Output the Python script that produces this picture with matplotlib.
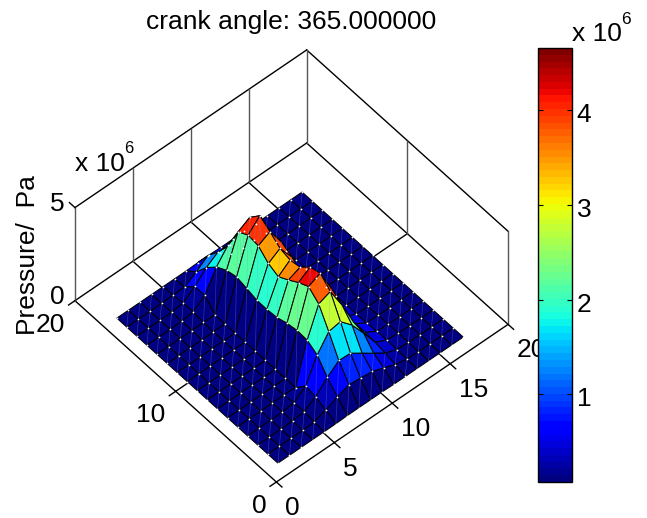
import numpy as np
import matplotlib
matplotlib.use("Agg")
import matplotlib.pyplot as plt
from matplotlib.cm import ScalarMappable
from matplotlib.colors import Normalize
from matplotlib.transforms import ScaledTranslation

plt.rcParams['font.family'] = ['Liberation Sans', 'DejaVu Sans']

# pressure in 1e6 Pa, one row per x node, columns are y = 1..17
row_x01 = [.10, .10, .10, .10, .10, .10, .10, .10, .10, .10, .10, .10, .10, .10, .10, .10, .10]
row_x02 = [.10, .10, .10, .11, .11, .10, .10, .10, .10, .10, .10, .10, .10, .11, .11, .10, .10]
row_x03 = [.10, .10, .11, .11, .11, .10, .10, .10, .10, .10, .10, .10, .10, .11, .11, .10, .10]
row_x04 = [.10, .11, .12, .12, .11, .10, .10, .10, .10, .10, .10, .10, .11, .12, .12, .11, .10]
row_x05 = [.10, .12, .20, .20, .12, .10, .10, .10, .10, .10, .10, .10, .12, .20, .20, .12, .10]
row_x06 = [.10, .36, .59, .67, .10, .10, .10, .10, .10, .10, .10, .10, .12, .67, .66, .14, .10]
row_x07 = [.12, .65, 1.20, 1.92, 2.23, 2.26, 2.16, 1.98, 1.93, 1.94, 2.08, 2.21, 2.08, 1.77, 1.25, .53, .10]
row_x08 = [.12, .86, 1.68, 2.75, 3.75, 4.19, 3.92, 3.57, 3.26, 3.49, 3.95, 4.03, 3.72, 2.52, 1.66, .98, .12]
row_x09 = [.12, .80, 1.65, 2.86, 3.99, 4.48, 4.32, 3.83, 3.73, 3.87, 4.28, 4.65, 4.07, 2.80, 1.60, .70, .12]
row_x10 = [.12, .73, 1.23, 2.25, 2.85, 3.20, 3.00, 2.60, 2.60, 3.00, 3.30, 3.30, 2.50, 1.20, .50, .20, .10]
row_x11 = [.10, .50, .80, 1.40, 1.50, 1.60, 1.50, 1.30, 1.30, 1.50, 1.60, 1.60, 1.20, .40, .15, .10, .10]
row_x12 = [.10, .25, .38, .47, .52, .50, .40, .30, .30, .40, .40, .40, .30, .20, .10, .10, .10]
row_x13 = [.10, .12, .15, .18, .15, .12, .10, .10, .10, .10, .10, .10, .10, .10, .10, .10, .10]
row_x14 = [.10, .10, .11, .12, .11, .10, .10, .10, .10, .10, .10, .10, .10, .10, .10, .10, .10]
row_x15 = [.10, .10, .10, .10, .10, .10, .10, .10, .10, .10, .10, .10, .10, .10, .10, .10, .10]
row_x16 = [.10, .10, .10, .10, .10, .10, .10, .10, .10, .10, .10, .10, .10, .10, .10, .10, .10]
row_x17 = [.10, .10, .10, .10, .10, .10, .10, .10, .10, .10, .10, .10, .10, .10, .10, .10, .10]

pressure = np.array([row_x01, row_x02, row_x03, row_x04, row_x05, row_x06, row_x07, row_x08, row_x09,
                     row_x10, row_x11, row_x12, row_x13, row_x14, row_x15, row_x16, row_x17])

x_nodes = np.arange(1, 18)
y_nodes = np.arange(1, 18)
x_ticks = [0, 5, 10, 15, 20]
y_ticks = [0, 10, 20]
z_ticks = [0, 5]
cbar_ticks = [1, 2, 3, 4]
cbar_min = 0.075
cbar_max = 4.654

W, H = 647, 518
fig = plt.figure(figsize=(W / 100, H / 100), dpi=100)

side = 445.8
ax = fig.add_axes([62.6 / W, 23.1 / H, side / W, side / H], projection='3d', proj_type='ortho')
ax.set_box_aspect((1, 1, 0.487))
ax.view_init(elev=51.5, azim=-131)
ax.computed_zorder = False
ax.set_axis_off()

jet = plt.get_cmap('jet', 64)
norm = Normalize(cbar_min, cbar_max)

# box, walls and floor grid, all behind the surface
black = dict(color='k', lw=1.0, zorder=1, clip_on=False)
wall = dict(color='#555555', lw=1.0, zorder=1, clip_on=False)
for a, b in [((0, 0), (20, 0)), ((0, 0), (0, 20)), ((20, 0), (20, 20)), ((0, 20), (20, 20))]:
    ax.plot([a[0], b[0]], [a[1], b[1]], [0, 0], **black)
ax.plot([0, 20], [20, 20], [5, 5], **black)
ax.plot([20, 20], [0, 20], [5, 5], **black)
for cx, cy in [(0, 20), (20, 20), (20, 0)]:
    ax.plot([cx, cx], [cy, cy], [0, 5], **wall)

for t in x_ticks[1:-1]:
    ax.plot([t, t], [0, 20], [0, 0], **black)
    ax.plot([t, t], [20, 20], [0, 5], **wall)
for t in y_ticks[1:-1]:
    ax.plot([0, 20], [t, t], [0, 0], **black)
    ax.plot([20, 20], [t, t], [0, 5], **wall)

# tick marks
for t in x_ticks:
    ax.plot([t, t], [0, -0.55], [0, 0], **black)
for t in y_ticks:
    ax.plot([0, -0.55], [t, t], [0, 0], **black)
ax.plot([0, 0], [20, 20.55], [5, 5], **black)

X, Y = np.meshgrid(x_nodes, y_nodes, indexing='ij')
ax.plot_surface(X, Y, pressure, rstride=1, cstride=1, facecolors=jet(norm(pressure)),
                edgecolor='k', linewidth=0.7, shade=False, antialiased=True, zorder=2)

# faint cell diagonals and white vertex dots, left out behind the ridge
hidden = (X >= 10) & (X <= 12) & (Y >= 3) & (Y <= 15)
for i in range(len(x_nodes) - 1):
    for j in range(len(y_nodes) - 1):
        if not hidden[i, j]:
            ax.plot([X[i, j], X[i + 1, j + 1]], [Y[i, j], Y[i + 1, j + 1]],
                    [pressure[i, j], pressure[i + 1, j + 1]], color='#7f8fe0', lw=0.5, alpha=0.35, zorder=3)
ax.scatter(X[~hidden], Y[~hidden], pressure[~hidden], s=1.6, c='w', linewidths=0, depthshade=False, zorder=4)

ax.set_xlim(0, 20, view_margin=0)
ax.set_ylim(0, 20, view_margin=0)
ax.set_zlim(0, 5, view_margin=0)

# tick labels
fs = 19
for t in x_ticks:
    ax.text(t - 0.9, -1.87, -0.1, str(t), ha='left', va='center', fontsize=fs, zorder=5)
for t in y_ticks:
    ax.text(-1.81, t - 1.08, 0, str(t), ha='right', va='center', fontsize=fs, zorder=5)
for t in z_ticks:
    ax.text(-0.19, 20.77, t - 0.08, str(t), ha='right', va='center', fontsize=fs, zorder=5)

fig.text(291 / W, 1 - 22 / H, 'crank angle: 365.000000', ha='center', va='center', fontsize=fs)
fig.text(75 / W, 1 - 171 / H, 'x 10', ha='left', va='baseline', fontsize=fs)
fig.text(124 / W, 1 - 153 / H, '6', ha='left', va='baseline', fontsize=12)
fig.text(28 / W, 1 - 255.5 / H, 'Pressure/  Pa', rotation=90, ha='center', va='center', fontsize=fs)

# colorbar
cax = fig.add_axes([537.5 / W, 1 - 482 / H, 34.2 / W, 434 / H])
cb = fig.colorbar(ScalarMappable(norm=norm, cmap=jet), cax=cax, ticks=cbar_ticks)
cb.ax.tick_params(direction='in', left=True, right=True, length=3.5, width=0.8, labelsize=fs, pad=3.5)
cb.ax.set_yticklabels([str(t) for t in cbar_ticks])
down = ScaledTranslation(0, -2.5 / 100, fig.dpi_scale_trans)
for lab in cb.ax.get_yticklabels():
    lab.set_transform(lab.get_transform() + down)
cb.outline.set_linewidth(1.0)
fig.text(572 / W, 1 - 41 / H, 'x 10', ha='left', va='baseline', fontsize=fs)
fig.text(621 / W, 1 - 24 / H, '6', ha='left', va='baseline', fontsize=12.5)

fig.savefig('out.png', dpi=100)
